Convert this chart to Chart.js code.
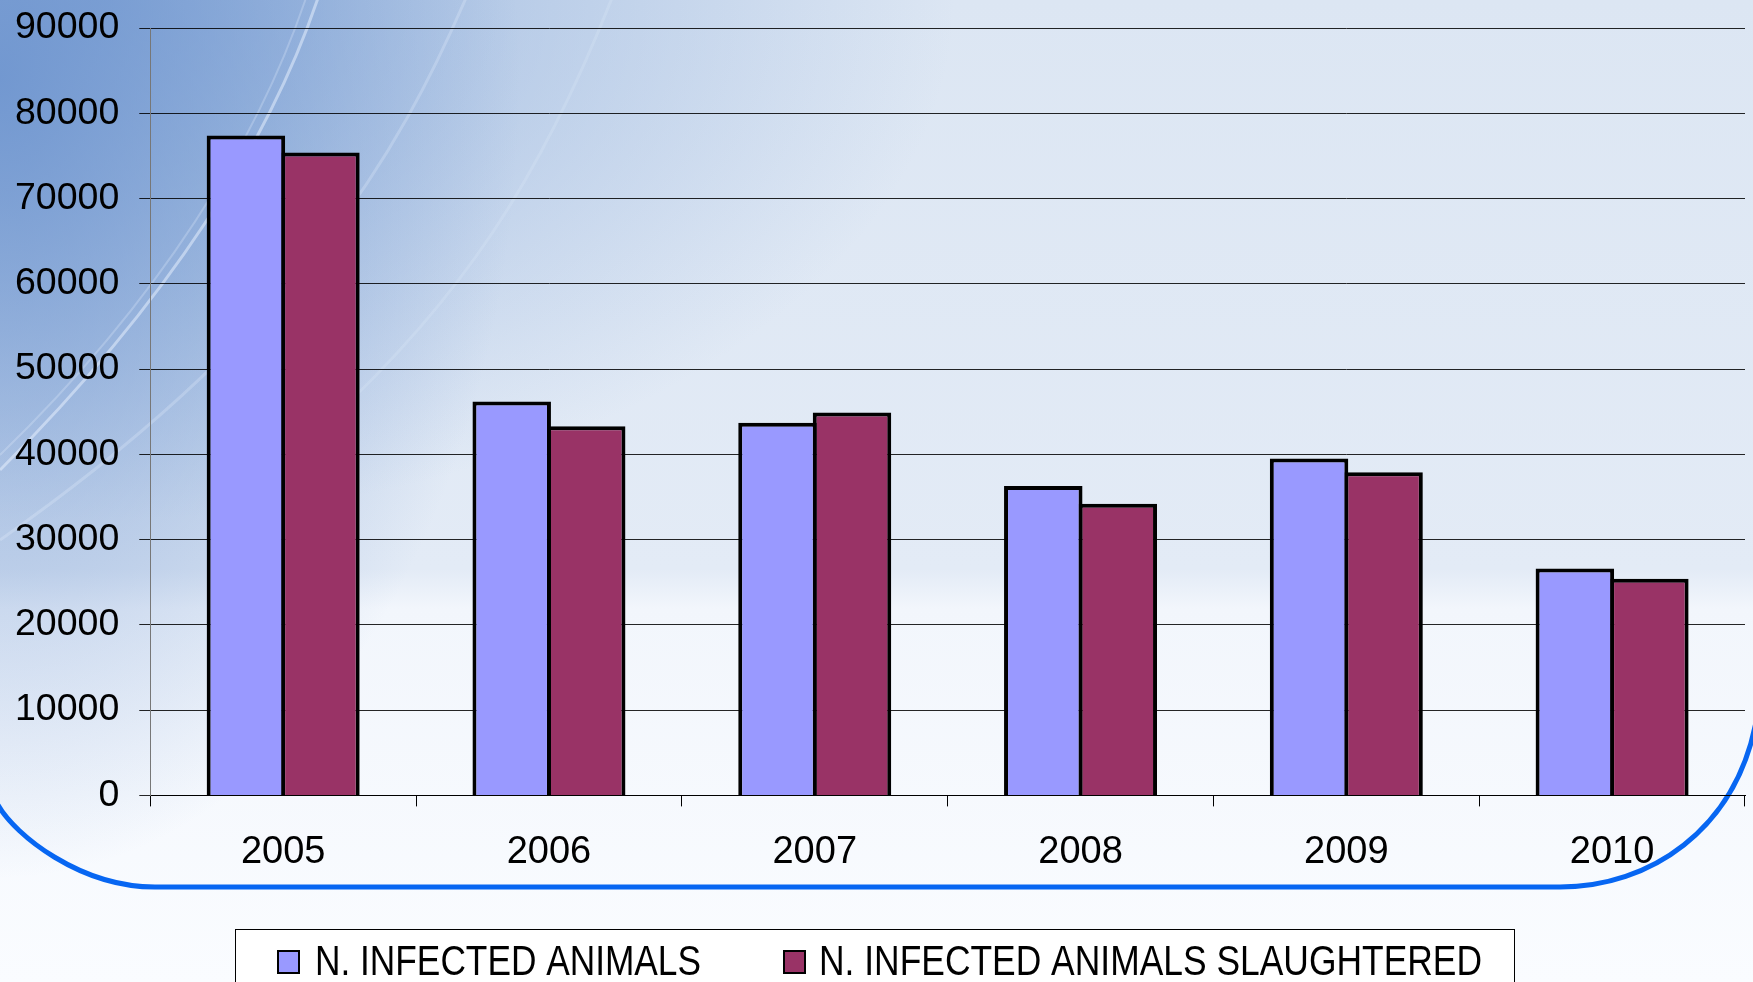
<!DOCTYPE html>
<html><head><meta charset="utf-8">
<script src="https://cdn.jsdelivr.net/npm/chart.js@4"></script>
<style>
html,body{margin:0;padding:0;width:1753px;height:982px;overflow:hidden;}
body{
 background:
  radial-gradient(ellipse 520px 800px at 0% 8%, rgba(105,145,205,0.85), rgba(105,145,205,0) 100%),
  radial-gradient(ellipse 850px 520px at 6% 0%, rgba(130,165,215,0.75), rgba(130,165,215,0) 100%),
  linear-gradient(180deg, #dce6f3 0%, #e3ebf6 58%, #f2f6fc 62%, #fafcff 100%);
}
canvas{display:block}
</style></head>
<body><canvas id="c" width="1753" height="982"></canvas>
<script>
const years = ['2005','2006','2007','2008','2009','2010'];
const infected = [77400, 46200, 43700, 36300, 39500, 26600];
const slaughtered = [75400, 43300, 44900, 34200, 37900, 25400];
const seriesLabels = ['N. INFECTED ANIMALS', 'N. INFECTED ANIMALS SLAUGHTERED'];
const seriesColors = ['#9999ff', '#993366'];
const yMin = 0, yMax = 90000, yStep = 10000;
const FONT = '"Liberation Sans", Arial, sans-serif';

const decor = {
  id: 'decor',
  beforeDraw(chart) {
    const ctx = chart.ctx;
    ctx.save();
    // soft light streaks in the background
    const streak = (pts, w, a) => {
      ctx.strokeStyle = 'rgba(235,244,255,' + a + ')';
      ctx.lineWidth = w;
      ctx.beginPath();
      ctx.moveTo(pts[0], pts[1]);
      ctx.bezierCurveTo(pts[2], pts[3], pts[4], pts[5], pts[6], pts[7]);
      ctx.stroke();
    };
    streak([318, -2, 270, 140, 170, 300, 0, 470], 3, 0.5);
    streak([306, -2, 258, 140, 160, 300, 0, 455], 2, 0.25);
    streak([466, -2, 400, 150, 300, 330, 0, 540], 3, 0.25);
    streak([612, -2, 540, 180, 460, 300, 330, 420], 3, 0.18);
    // blue frame curve
    ctx.strokeStyle = '#0766f2';
    ctx.lineWidth = 5;
    ctx.beginPath();
    ctx.moveTo(-2, 805);
    ctx.bezierCurveTo(15, 835, 80, 887, 155, 887);
    ctx.lineTo(1560, 887);
    ctx.bezierCurveTo(1650, 887, 1735, 830, 1756, 722);
    ctx.stroke();
    ctx.restore();
  }
};

const legendBox = {
  id: 'legendBox',
  afterDraw(chart) {
    const ctx = chart.ctx;
    ctx.save();
    ctx.fillStyle = '#ffffff';
    ctx.fillRect(235, 929, 1279, 80);
    ctx.strokeStyle = '#000';
    ctx.lineWidth = 1;
    ctx.strokeRect(235.5, 929.5, 1279, 80);
    const boxesX = [277, 783];
    const textX = [315, 819];
    const textW = [386, 663];
    const cy = 962;
    ctx.font = '42px ' + FONT;
    ctx.textBaseline = 'middle';
    chart.data.datasets.forEach((ds, i) => {
      ctx.fillStyle = '#000';
      ctx.fillRect(boxesX[i], cy - 12, 23, 24);
      ctx.fillStyle = ds.backgroundColor;
      ctx.fillRect(boxesX[i] + 2, cy - 10, 19, 20);
      const w = ctx.measureText(ds.label).width;
      ctx.save();
      ctx.translate(textX[i], cy);
      ctx.scale(textW[i] / w, 1);
      ctx.fillStyle = '#000';
      ctx.fillText(ds.label, 0, 1);
      ctx.restore();
    });
    ctx.restore();
  }
};

new Chart(document.getElementById('c'), {
  type: 'bar',
  data: {
    labels: years,
    datasets: [
      { label: seriesLabels[0], data: infected, backgroundColor: seriesColors[0], borderColor: '#000',
        borderWidth: 4, borderSkipped: 'bottom', inflateAmount: 0 },
      { label: seriesLabels[1], data: slaughtered, backgroundColor: seriesColors[1], borderColor: '#000',
        borderWidth: 4, borderSkipped: 'bottom', inflateAmount: 0 }
    ]
  },
  options: {
    responsive: false,
    devicePixelRatio: 1,
    animation: false,
    layout: { padding: { top: 28, left: -5, right: 8, bottom: 84 } },
    datasets: { bar: { categoryPercentage: 0.5606, barPercentage: 1.0537 } },
    plugins: { legend: { display: false }, tooltip: { enabled: false } },
    scales: {
      x: {
        grid: { drawOnChartArea: false, drawTicks: true, tickLength: 11, color: '#000', offset: true },
        border: { color: '#000', width: 1 },
        ticks: { color: '#000', font: { family: FONT, size: 38 }, padding: 23 }
      },
      y: {
        min: yMin, max: yMax,
        afterFit: (s) => { s.paddingTop = 0; s.paddingBottom = 0; },
        grid: { color: 'rgba(0,0,0,0.85)', lineWidth: 1, tickLength: 11 },
        border: { color: '#777', width: 1 },
        ticks: { stepSize: yStep, color: '#000', font: { family: FONT, size: 37.5 }, padding: 20,
                 callback: (v) => String(v) }
      }
    }
  },
  plugins: [decor, legendBox]
});
</script>
</body></html>
